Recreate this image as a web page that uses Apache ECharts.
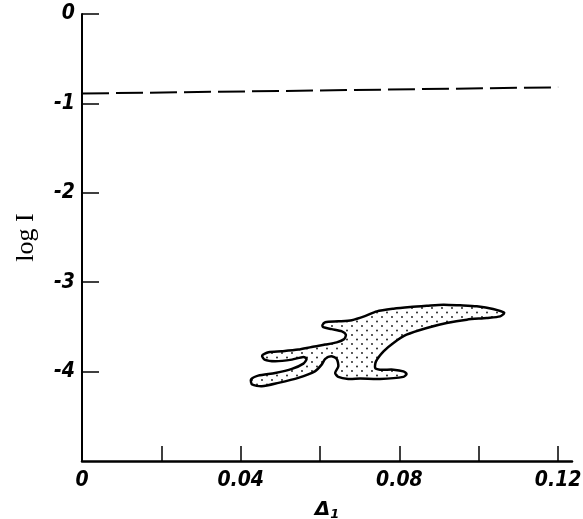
<!DOCTYPE html>
<html>
<head>
<meta charset="utf-8">
<script src="https://cdn.jsdelivr.net/npm/echarts@6/dist/echarts.min.js"></script>
<style>
html,body{margin:0;padding:0;background:#fff;}
#chart{width:583px;height:519px;}
</style>
</head>
<body>
<div id="chart"></div>
<script>
// ---- data ----
const xTickValues = [0.02, 0.04, 0.06, 0.08, 0.10, 0.12];
const xLabelValues = [0, 0.04, 0.08, 0.12];
const yTickValues = [-4, -3, -2, -1, 0];
const dashX = [0, 0.12];
const dashY = [-0.89, -0.82];
const blobX = [0.1064,0.1036,0.0995,0.0953,0.0911,0.0869,0.0827,0.0785,0.0743,0.0713,0.0680,0.0646,0.0613,0.0606,0.0608,0.0629,0.0655,0.0665,0.0661,0.0642,0.0613,0.0579,0.0545,0.0503,0.0470,0.0454,0.0460,0.0487,0.0529,0.0558,0.0566,0.0558,0.0529,0.0487,0.0444,0.0426,0.0429,0.0453,0.0495,0.0545,0.0587,0.0604,0.0613,0.0628,0.0642,0.0646,0.0638,0.0646,0.0671,0.0701,0.0751,0.0810,0.0818,0.0810,0.0785,0.0751,0.0739,0.0741,0.0760,0.0785,0.0818,0.0869,0.0919,0.0970,0.1020,0.1054];
const blobY = [-3.341,-3.299,-3.270,-3.259,-3.251,-3.263,-3.277,-3.296,-3.326,-3.380,-3.425,-3.438,-3.447,-3.480,-3.503,-3.525,-3.550,-3.587,-3.635,-3.673,-3.698,-3.724,-3.754,-3.773,-3.784,-3.821,-3.866,-3.885,-3.866,-3.836,-3.858,-3.911,-3.970,-4.015,-4.045,-4.089,-4.145,-4.164,-4.126,-4.070,-3.997,-3.922,-3.858,-3.829,-3.858,-3.941,-4.015,-4.059,-4.082,-4.078,-4.082,-4.059,-4.028,-3.997,-3.978,-3.978,-3.959,-3.885,-3.773,-3.679,-3.587,-3.512,-3.456,-3.419,-3.400,-3.382];

// dotted fill pattern
const pat = document.createElement('canvas');
pat.width = 10; pat.height = 9;
const pc = pat.getContext('2d');
pc.fillStyle = '#fff'; pc.fillRect(0,0,10,9);
pc.fillStyle = '#111';
pc.beginPath(); pc.arc(2,2,0.9,0,Math.PI*2); pc.fill();
pc.beginPath(); pc.arc(7,6.5,0.9,0,Math.PI*2); pc.fill();

const labelFont = {
  fontFamily: "'Liberation Sans Narrow','DejaVu Sans Condensed',sans-serif",
  fontStyle: 'italic', fontWeight: 'bold', fontSize: 21, color: '#000'
};

const chart = echarts.init(document.getElementById('chart'));
chart.setOption({
  animation: false,
  backgroundColor: '#fff',
  grid: {left: 82, right: 11, top: 14, bottom: 58, containLabel: false, outerBoundsMode: 'none'},
  xAxis: {
    type: 'value', min: 0, max: 0.1235, interval: 0.02,
    splitLine: {show: false},
    axisLine: {show: true, onZero: false, lineStyle: {color: '#000', width: 2.5}},
    axisTick: {show: true, inside: true, length: 15, customValues: xTickValues, lineStyle: {color: '#000', width: 1.5}},
    axisLabel: Object.assign({margin: 9, customValues: xLabelValues,
      formatter: v => v === 0 ? '0' : v.toFixed(2)}, labelFont),
    name: 'Δ{s|1}', nameLocation: 'middle', nameGap: 38, nameMoveOverlap: false,
    nameTextStyle: {fontFamily: "'DejaVu Sans','Liberation Sans',sans-serif", fontStyle: 'italic', fontWeight: 'bold', fontSize: 20, lineHeight: 22, color: '#000',
      rich: {s: {fontFamily: "'DejaVu Sans',sans-serif", fontStyle: 'italic', fontWeight: 'bold', fontSize: 13, lineHeight: 22, verticalAlign: 'bottom', color: '#000'}}}
  },
  yAxis: {
    type: 'value', min: -5, max: 0, interval: 1,
    splitLine: {show: false},
    axisLine: {show: true, onZero: false, lineStyle: {color: '#000', width: 2}},
    axisTick: {show: true, inside: true, length: 17, customValues: yTickValues, lineStyle: {color: '#000', width: 1.5}},
    axisLabel: Object.assign({margin: 7, customValues: yTickValues,
      formatter: v => String(v)}, labelFont),
    name: 'log I', nameLocation: 'middle', nameGap: 43, nameMoveOverlap: false,
    nameTextStyle: {fontFamily: "'Liberation Serif','DejaVu Serif',serif", fontSize: 26, color: '#000'}
  },
  series: [
    {
      type: 'line', data: dashX.map((x, i) => [x, dashY[i]]),
      symbol: 'none', silent: true,
      lineStyle: {color: '#000', width: 2, type: [27, 7]}
    },
    {
      type: 'custom', clip: false, silent: true,
      data: [[blobX[0], blobY[0]]],
      renderItem: function (params, api) {
        const pts = blobX.map((x, i) => api.coord([x, blobY[i]]));
        return {
          type: 'polygon',
          shape: {points: pts, smooth: 0.25},
          style: {fill: {image: pat, repeat: 'repeat'}, stroke: '#000', lineWidth: 2.5}
        };
      }
    }
  ]
});
</script>
</body>
</html>
